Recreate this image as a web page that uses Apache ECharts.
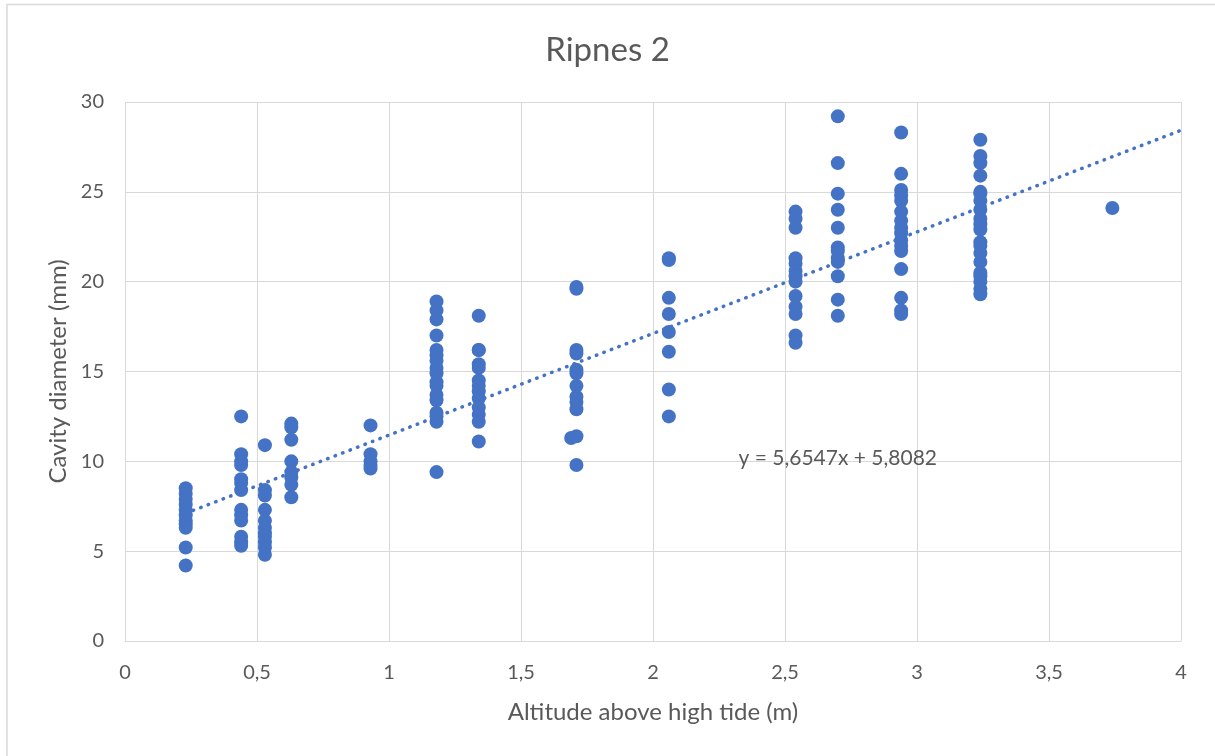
<!DOCTYPE html>
<html>
<head>
<meta charset="utf-8">
<script src="https://cdn.jsdelivr.net/npm/echarts@6/dist/echarts.min.js"></script>
<style>html,body{margin:0;padding:0;background:#fff}#c{width:1215px;height:756px}</style>
</head>
<body>
<div id="c"></div>
<script>
const altitudes = [0.23, 0.44, 0.53, 0.63, 0.93, 1.18, 1.34, 1.69, 1.71, 2.06, 2.54, 2.70, 2.94, 3.24, 3.74];
const d023 = [8.5, 8.2, 7.9, 7.6, 7.3, 7.0, 6.7, 6.5, 6.3, 5.2, 4.2];
const d044 = [12.5, 10.4, 10.0, 9.8, 9.0, 8.8, 8.4, 7.3, 7.0, 6.7, 5.8, 5.5, 5.3];
const d053 = [10.9, 8.4, 8.1, 7.3, 6.7, 6.3, 6.0, 5.8, 5.5, 5.2, 4.8];
const d063 = [12.1, 11.9, 11.2, 10.0, 9.4, 9.1, 8.7, 8.0];
const d093 = [12.0, 10.4, 10.0, 9.8, 9.6];
const d118 = [18.9, 18.4, 17.9, 17.0, 16.2, 15.9, 15.6, 15.2, 14.9, 14.4, 14.2, 13.7, 13.4, 12.7, 12.5, 12.2, 9.4];
const d134 = [18.1, 16.2, 16.2, 15.4, 15.2, 14.5, 14.2, 13.9, 13.5, 13.0, 12.6, 12.2, 11.1];
const d169 = [11.3];
const d171 = [19.7, 19.6, 16.2, 16.0, 15.1, 14.9, 14.2, 13.6, 13.3, 12.9, 11.4, 9.8];
const d206 = [21.3, 21.2, 19.1, 18.2, 17.2, 16.1, 14.0, 12.5];
const d254 = [23.9, 23.5, 23.0, 21.3, 21.0, 20.6, 20.3, 20.0, 19.2, 18.6, 18.2, 17.0, 16.6];
const d270 = [29.2, 26.6, 24.9, 24.0, 23.0, 21.9, 21.7, 21.3, 21.1, 20.3, 19.0, 18.1];
const d294 = [28.3, 26.0, 25.1, 24.8, 24.5, 23.9, 23.4, 23.0, 22.7, 22.3, 22.0, 21.7, 20.7, 19.1, 18.4, 18.2];
const d324 = [27.9, 27.0, 26.6, 25.9, 25.0, 24.9, 24.5, 24.0, 23.5, 23.2, 22.9, 22.2, 22.0, 21.6, 21.1, 20.5, 20.3, 20.0, 19.6, 19.3];
const d374 = [24.1];
const diameters = [d023, d044, d053, d063, d093, d118, d134, d169, d171, d206, d254, d270, d294, d324, d374];

const trendSlope = 5.6547;
const trendIntercept = 5.8082;
const trendRange = [0.23, 4];
const xTicks = [0, 0.5, 1, 1.5, 2, 2.5, 3, 3.5, 4];
const yTicks = [0, 5, 10, 15, 20, 25, 30];

const points = [];
altitudes.forEach((a, i) => diameters[i].forEach(v => points.push([a, v])));
const trend = trendRange.map(x => [x, trendSlope * x + trendIntercept]);

const fmt = v => String(v).replace('.', ',');
const txt = '#595959';
const font = 'Lato, "Open Sans", sans-serif';

const chart = echarts.init(document.getElementById('c'), null, {renderer: 'canvas'});
chart.setOption({
  animation: false,
  backgroundColor: '#fff',
  textStyle: {fontFamily: font},
  title: {
    text: 'Ripnes 2', left: 'center', top: 29,
    textStyle: {fontFamily: font, fontSize: 33, fontWeight: 'normal', color: txt}
  },
  grid: {left: 125, right: 34, top: 102, bottom: 115, containLabel: false},
  xAxis: {
    type: 'value', min: xTicks[0], max: xTicks[xTicks.length - 1], interval: 0.5,
    name: 'Altitude above high tide (m)', nameLocation: 'middle', nameGap: 59,
    nameTextStyle: {fontFamily: font, fontSize: 24, color: txt},
    axisLine: {show: true, lineStyle: {color: '#d9d9d9', width: 1}},
    axisTick: {show: false},
    axisLabel: {fontFamily: font, fontSize: 20, color: txt, margin: 22, formatter: fmt},
    splitLine: {show: true, lineStyle: {color: '#d9d9d9', width: 1}}
  },
  yAxis: {
    type: 'value', min: yTicks[0], max: yTicks[yTicks.length - 1], interval: 5,
    name: 'Cavity diameter (mm)', nameLocation: 'middle', nameGap: 55, nameRotate: 90,
    nameTextStyle: {fontFamily: font, fontSize: 24, color: txt},
    axisLine: {show: false},
    axisTick: {show: false},
    axisLabel: {fontFamily: font, fontSize: 20, color: txt, margin: 21, formatter: fmt},
    splitLine: {show: true, lineStyle: {color: '#d9d9d9', width: 1}}
  },
  series: [
    {
      type: 'scatter', data: points, symbol: 'circle', symbolSize: 14,
      itemStyle: {color: '#4472C4', opacity: 1}, z: 2
    },
    {
      type: 'line', data: trend, symbol: 'none', z: 3,
      lineStyle: {color: '#4472C4', width: 3.5, type: [0.5, 7.5], cap: 'round'},
      markPoint: {
        symbol: 'circle', symbolSize: 0,
        data: [{coord: [2.7, 10.2]}],
        label: {show: true, position: 'inside', formatter: 'y = 5,6547x + 5,8082',
          fontFamily: font, fontSize: 21, color: txt}
      }
    }
  ],
  graphic: [{
    type: 'rect', shape: {x: 7, y: 4.5, width: 1230, height: 780},
    style: {fill: 'none', stroke: '#d9d9d9', lineWidth: 1.5}, silent: true, z: -1
  }]
});
</script>
</body>
</html>
